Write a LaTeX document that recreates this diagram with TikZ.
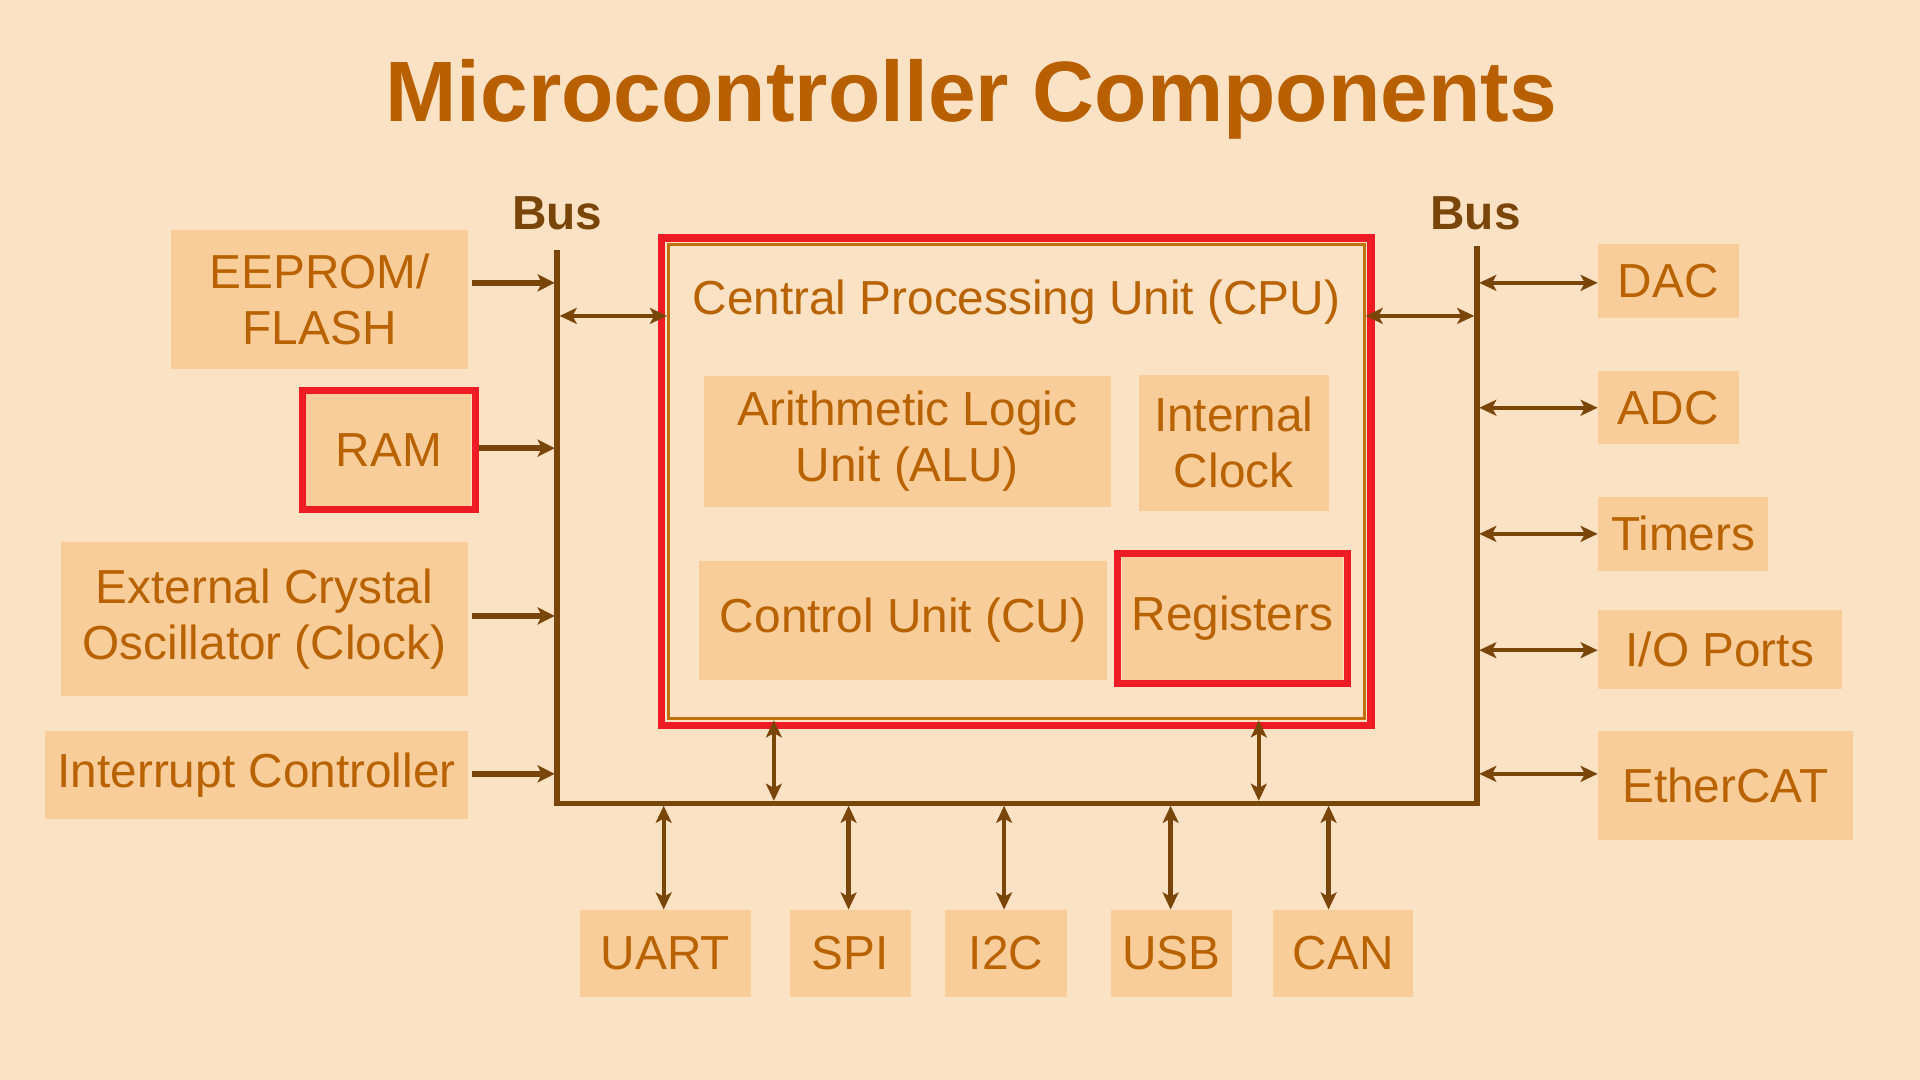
\documentclass[tikz,border=0pt]{standalone}
\usepackage{fontspec}
\setmainfont{Liberation Sans}
\usetikzlibrary{arrows.meta,fit}
\definecolor{bg}{HTML}{FCE2C4}
\definecolor{boxfill}{HTML}{F9CD9A}
\definecolor{txt}{HTML}{B86200}
\definecolor{ttl}{HTML}{B86000}
\definecolor{busc}{HTML}{7A4508}
\definecolor{hlred}{HTML}{ED1C24}
\definecolor{cpuline}{HTML}{C0700E}
\tikzset{
  comp/.style={fill=boxfill, text=txt, align=center, inner sep=0pt,
    font=\fontsize{39}{46}\selectfont},
  hl/.style={draw=hlred, line width=6pt, inner sep=3pt},
  bus/.style={draw=busc, line width=4.5pt, line cap=rect},
  arr1/.style={draw=busc, line width=4.5pt, -{Stealth[length=14pt,width=14pt,inset=3.5pt]}},
  arr2/.style={draw=busc, line width=3.5pt, {Stealth[length=14pt,width=13pt,inset=3.5pt]}-{Stealth[length=14pt,width=13pt,inset=3.5pt]}},
  buslbl/.style={text=busc, font=\bfseries\fontsize{39}{46}\selectfont, inner sep=0pt},
}
\begin{document}
\begin{tikzpicture}[x=1pt,y=-1pt]
\useasboundingbox (0,0) rectangle (1568,882);
\fill[bg] (0,0) rectangle (1568,882);

% title
\node[text=ttl, font=\bfseries\fontsize{70}{80}\selectfont, inner sep=0pt] (title) at (793,81) {Microcontroller Components};

% bus labels
\node[buslbl] (buslL) at (455,174) {Bus};
\node[buslbl] (buslR) at (1205,174) {Bus};

% bus lines
\coordinate (bTL) at (455,204);
\coordinate (bBL) at (455,656);
\coordinate (bBR) at (1206,656);
\coordinate (bTR) at (1206,201);
\draw[bus, line cap=butt] (bTL) -- (bBL) -- (bBR) -- (bTR);

% left components
\node[comp, minimum width=242pt, minimum height=113pt] (eeprom) at (261,244.5) {EEPROM/\\FLASH};
\node[comp, minimum width=135pt, minimum height=91pt] (ram) at (317.5,367.5) {RAM};
\node[hl, fit=(ram)] (ramhl) {};
\node[comp, minimum width=332pt, minimum height=125pt] (xtal) at (216,505.5) {External Crystal\\Oscillator (Clock)};
\node[comp, minimum width=345pt, minimum height=72pt] (irq) at (209.5,633) {Interrupt Controller};

% CPU
\node[draw=cpuline, line width=2.5pt, fill=bg, minimum width=568pt, minimum height=387pt, inner sep=0pt] (cpu) at (830,393.5) {};
\node[hl, fit=(cpu), inner sep=4.5pt] (cpuhl) {};
\node[text=txt, font=\fontsize{39}{46}\selectfont, inner sep=0pt] (cputitle) at (830,247) {Central Processing Unit (CPU)};
\node[comp, minimum width=332pt, minimum height=107pt] (alu) at (741,360.5) {Arithmetic Logic\\Unit (ALU)};
\node[comp, minimum width=155pt, minimum height=111pt] (clk) at (1007.5,361.5) {Internal\\Clock};
\node[comp, minimum width=333pt, minimum height=97pt] (cu) at (737.5,506.5) {Control Unit (CU)};
\node[comp, minimum width=181pt, minimum height=100pt] (reg) at (1006.5,505) {Registers};
\node[hl, fit=(reg)] (reghl) {};

% bottom components
\node[comp, minimum width=139pt, minimum height=71pt] (uart) at (543.5,778.5) {UART};
\node[comp, minimum width=99pt, minimum height=71pt] (spi) at (694.5,778.5) {SPI};
\node[comp, minimum width=99pt, minimum height=71pt] (i2c) at (821.5,778.5) {I2C};
\node[comp, minimum width=99pt, minimum height=71pt] (usb) at (956.5,778.5) {USB};
\node[comp, minimum width=114pt, minimum height=71pt] (can) at (1097,778.5) {CAN};

% right components
\node[comp, minimum width=115pt, minimum height=61pt] (dac) at (1362.5,229.5) {DAC};
\node[comp, minimum width=115pt, minimum height=60pt] (adc) at (1362.5,333) {ADC};
\node[comp, minimum width=139pt, minimum height=60pt] (timers) at (1374.5,436) {Timers};
\node[comp, minimum width=199pt, minimum height=65pt] (io) at (1404.5,530.5) {I/O Ports};
\node[comp, minimum width=208pt, minimum height=89pt] (ecat) at (1409,641.5) {EtherCAT};

% left arrows into bus
\coordinate (tE) at (453,231);
\coordinate (tR) at (453,366);
\coordinate (tX) at (453,503);
\coordinate (tI) at (453,632);
\draw[arr1] ([xshift=3pt]eeprom.east |- tE) -- (tE);
\draw[arr1] (ramhl.east |- tR) -- (tR);
\draw[arr1] ([xshift=3pt]xtal.east |- tX) -- (tX);
\draw[arr1] ([xshift=3pt]irq.east |- tI) -- (tI);

% CPU to buses
\coordinate (cL) at (457,258);
\coordinate (cR) at (1204,258);
\draw[arr2] (cL) -- (cpu.west |- cL);
\draw[arr2] (cpu.east |- cR) -- (cR);
\coordinate (cB1) at (632,654);
\coordinate (cB2) at (1028,654);
\draw[arr2] (cpu.south -| cB1) -- (cB1);
\draw[arr2] (cpu.south -| cB2) -- (cB2);

% bottom arrows
\foreach \n/\x in {uart/542, spi/693, i2c/820, usb/956, can/1085}{
  \coordinate (t\n) at (\x,658);
  \draw[arr2] (t\n) -- (\n.north -| t\n);
}

% right arrows
\foreach \n/\y in {dac/231, adc/333, timers/436, io/531, ecat/632}{
  \coordinate (t\n) at (1208,\y);
  \draw[arr2] (t\n) -- (\n.west |- t\n);
}
\end{tikzpicture}
\end{document}
